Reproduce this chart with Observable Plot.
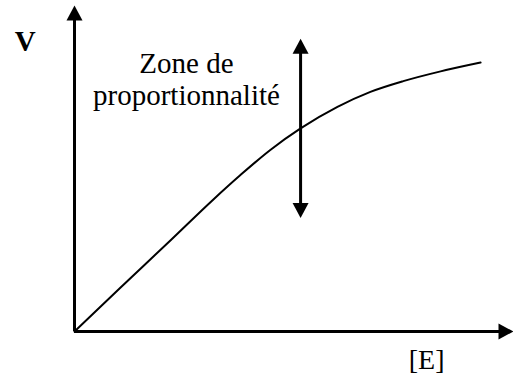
<!DOCTYPE html>
<html>
<head>
<meta charset="utf-8">
<script src="https://cdn.jsdelivr.net/npm/d3@7"></script>
<script src="https://cdn.jsdelivr.net/npm/@observablehq/plot@0.6"></script>
<style>
  html, body { margin: 0; padding: 0; background: #fff; }
</style>
</head>
<body>
<div id="chart"></div>
<script>
// Curve V = f([E]) (arbitrary units, axes 0..10)
const curveE = [0, 1.05, 2.19, 3.17, 3.78, 4.46, 5.15, 5.99, 6.74, 7.49, 8.34, 9.25];
const curveV = [0, 1.35, 2.80, 4.06, 4.80, 5.57, 6.23, 6.89, 7.35, 7.68, 7.98, 8.25];

// Axis extents
const axisEndE = 10;
const axisEndV = 10;

// Double-headed arrow marking the zone
const zoneE = 5.15;
const zoneLow = 3.48;
const zoneHigh = 8.98;

// Labels
const labelV = "V";
const labelE = "[E]";
const zoneLabel = "Zone de\nproportionnalité";

const curve = curveE.map((e, i) => ({E: e, V: curveV[i]}));

// filled triangle with its tip at the origin, pointing up
const head = {
  draw(ctx) {
    ctx.moveTo(0, 0);
    ctx.lineTo(8, 15);
    ctx.lineTo(-8, 15);
    ctx.closePath();
  }
};

const heads = [
  {E: 0, V: axisEndV, rot: 0},
  {E: axisEndE, V: 0, rot: 90},
  {E: zoneE, V: zoneHigh, rot: 0},
  {E: zoneE, V: zoneLow, rot: 180}
];

const serif = "'Liberation Serif', 'Times New Roman', serif";

const chart = Plot.plot({
  width: 513,
  height: 380,
  marginLeft: 74,
  marginRight: 0,
  marginTop: 5,
  marginBottom: 49,
  style: {background: "#fff", fontFamily: serif},
  x: {domain: [0, axisEndE], axis: null},
  y: {domain: [0, axisEndV], axis: null},
  marks: [
    // axes shafts
    Plot.ruleX([0], {y1: 0, y2: axisEndV * 0.96, stroke: "black", strokeWidth: 3}),
    Plot.ruleY([0], {x1: 0, x2: axisEndE * 0.98, stroke: "black", strokeWidth: 3}),
    // curve
    Plot.line(curve, {x: "E", y: "V", curve: "monotone-x", stroke: "black", strokeWidth: 2}),
    // zone arrow shaft
    Plot.ruleX([zoneE], {y1: zoneLow + 0.2, y2: zoneHigh - 0.2, stroke: "black", strokeWidth: 3}),
    // arrow heads
    Plot.dot(heads, {x: "E", y: "V", rotate: "rot", symbol: head, fill: "black", stroke: "none"}),
    // labels
    Plot.text([labelV], {x: -1.12, y: 8.6, text: d => d, fontSize: 29, fontWeight: "bold", fontFamily: serif, fill: "black", lineAnchor: "bottom"}),
    Plot.text([labelE], {x: 8.02, y: -1.15, text: d => d, fontSize: 28, fontFamily: serif, fill: "black", lineAnchor: "bottom"}),
    Plot.text([zoneLabel], {x: 2.55, y: 6.95, text: d => d, fontSize: 29, fontFamily: serif, fill: "black", lineAnchor: "bottom", lineHeight: 1.1})
  ]
});

document.getElementById("chart").appendChild(chart);
</script>
</body>
</html>
